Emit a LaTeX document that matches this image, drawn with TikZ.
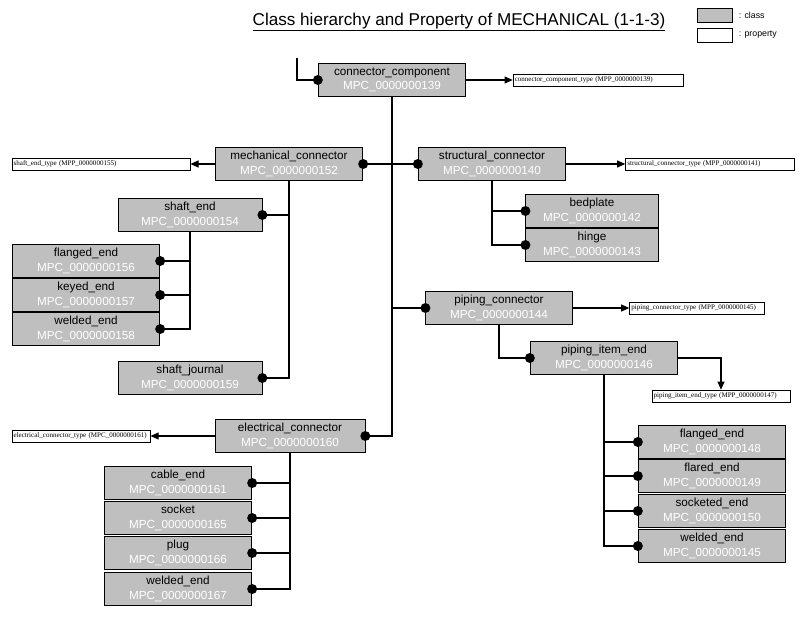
\documentclass[tikz,border=0pt]{standalone}
\usepackage{fontspec}
\setmainfont{Liberation Sans}
\newfontfamily\propfont{Liberation Serif}
\usetikzlibrary{arrows.meta,positioning}
\tikzset{cls/.style={draw, line width=.6pt, fill=gray!50, minimum width=126pt, minimum height=28pt,
  inner sep=1pt, align=center, font=\fontsize{10}{12.5}\selectfont}}
\tikzset{prop/.style={draw, line width=.6pt, fill=white, inner sep=1.5pt, minimum height=10pt,
  align=left, font=\propfont\fontsize{6}{7}\selectfont}}
\tikzset{jn/.style={circle, fill, inner sep=0pt, minimum size=8.5pt}}
\tikzset{link/.style={color=black, line width=1.8pt}}
\tikzset{ref/.style={line width=.9pt, -{Triangle[length=7pt,width=6pt]}}}
\newcommand{\mpccode}[1]{\\{\color{white}#1}}

\begin{document}
\begin{tikzpicture}[x=0.03cm, y=-0.03cm]
  \useasboundingbox (0,0) rectangle (800,617);

  % title and legend
  \node[font=\fontsize{14.6}{16}\selectfont] (title) at (459,22)
    {\underline{Class hierarchy and Property of MECHANICAL (1-1-3)}};
  \node[draw, fill=gray!50, minimum width=30pt, minimum height=12pt, inner sep=0pt] (lc) at (715,15) {};
  \node[draw, fill=white, minimum width=30pt, minimum height=12pt, inner sep=0pt] (lp) at (715,35) {};
  \node[right=5pt of lc, font=\fontsize{7.5}{8}\selectfont, inner sep=0pt] (lct) {: class};
  \node[right=5pt of lp, font=\fontsize{7.5}{8}\selectfont, inner sep=0pt] (lpt) {: property};

  % classes
  \node[cls] (cc) at (392,80) {connector\_component\mpccode{MPC\_0000000139}};
  \node[cls] (mc) at (289,164) {mechanical\_connector\mpccode{MPC\_0000000152}};
  \node[cls] (sc) at (492,164) {structural\_connector\mpccode{MPC\_0000000140}};
  \node[cls, minimum width=123pt] (se) at (190,215) {shaft\_end\mpccode{MPC\_0000000154}};
  \node[cls] (fe1) at (86,261) {flanged\_end\mpccode{MPC\_0000000156}};
  \node[cls] (ke) at (86,295) {keyed\_end\mpccode{MPC\_0000000157}};
  \node[cls] (we1) at (86,329) {welded\_end\mpccode{MPC\_0000000158}};
  \node[cls, minimum width=123pt] (sj) at (190,378) {shaft\_journal\mpccode{MPC\_0000000159}};
  \node[cls, minimum width=113pt] (bp) at (592,211) {bedplate\mpccode{MPC\_0000000142}};
  \node[cls, minimum width=113pt] (hi) at (592,245) {hinge\mpccode{MPC\_0000000143}};
  \node[cls, minimum width=125pt] (pc) at (499,308) {piping\_connector\mpccode{MPC\_0000000144}};
  \node[cls] (pie) at (604,358) {piping\_item\_end\mpccode{MPC\_0000000146}};
  \node[cls] (fe2) at (712,442) {flanged\_end\mpccode{MPC\_0000000148}};
  \node[cls] (fl) at (712,476) {flared\_end\mpccode{MPC\_0000000149}};
  \node[cls] (so) at (712,511) {socketed\_end\mpccode{MPC\_0000000150}};
  \node[cls] (we2) at (712,546) {welded\_end\mpccode{MPC\_0000000145}};
  \node[cls, minimum width=128pt] (ec) at (290,436) {electrical\_connector\mpccode{MPC\_0000000160}};
  \node[cls] (ce) at (178,483) {cable\_end\mpccode{MPC\_0000000161}};
  \node[cls] (sk) at (178,518) {socket\mpccode{MPC\_0000000165}};
  \node[cls] (pl) at (178,553) {plug\mpccode{MPC\_0000000166}};
  \node[cls] (we3) at (178,589) {welded\_end\mpccode{MPC\_0000000167}};

  % properties
  \node[prop, text width=142pt] (cct) at (598,80) {connector\_component\_type (MPP\_0000000139)};
  \node[prop, text width=149pt] (set) at (101,164) {shaft\_end\_type (MPP\_0000000155)};
  \node[prop, text width=141pt] (sct) at (710,164) {structural\_connector\_type (MPP\_0000000141)};
  \node[prop, text width=112pt] (pct) at (697,308) {piping\_connector\_type (MPP\_0000000145)};
  \node[prop, text width=115pt] (pit) at (721,396) {piping\_item\_end\_type (MPP\_0000000147)};
  \node[prop, text width=115pt] (ect) at (81,436) {electrical\_connector\_type (MPC\_0000000161)};

  \draw[ref] (cc.east) -- (cct.west);
  \draw[ref] (mc.west) -- (set.east);
  \draw[ref] (sc.east) -- (sct.west);
  \draw[ref] (pc.east) -- (pct.west);
  \draw[ref] (pie.east) -| (pit.north);
  \draw[ref] (ec.west) -- (ect.east);

  % hierarchy
  \coordinate (top) at (297,58);
  \draw[link] (top) |- (cc.west) node[jn]{};
  \draw[link] (cc.south) -- (cc.south |- ec.east) -- (ec.east) node[jn]{};
  \draw[link] (mc.east) node[jn]{} -- (sc.west) node[jn]{};
  \draw[link] (cc.south |- pc.west) -- (pc.west) node[jn]{};

  \draw[link] (mc.south) |- (sj.east) node[jn]{};
  \draw[link] (mc.south |- se.east) -- (se.east) node[jn]{};
  \draw[link] (se.south) |- (we1.east) node[jn]{};
  \foreach \n in {fe1,ke}
    \draw[link] (se.south |- \n.east) -- (\n.east) node[jn]{};

  \draw[link] (sc.south) |- (hi.west) node[jn]{};
  \draw[link] (sc.south |- bp.west) -- (bp.west) node[jn]{};

  \draw[link] (pc.south) |- (pie.west) node[jn]{};
  \draw[link] (pie.south) |- (we2.west) node[jn]{};
  \foreach \n in {fe2,fl,so}
    \draw[link] (pie.south |- \n.west) -- (\n.west) node[jn]{};

  \draw[link] (ec.south) |- (we3.east) node[jn]{};
  \foreach \n in {ce,sk,pl}
    \draw[link] (ec.south |- \n.east) -- (\n.east) node[jn]{};
\end{tikzpicture}
\end{document}
